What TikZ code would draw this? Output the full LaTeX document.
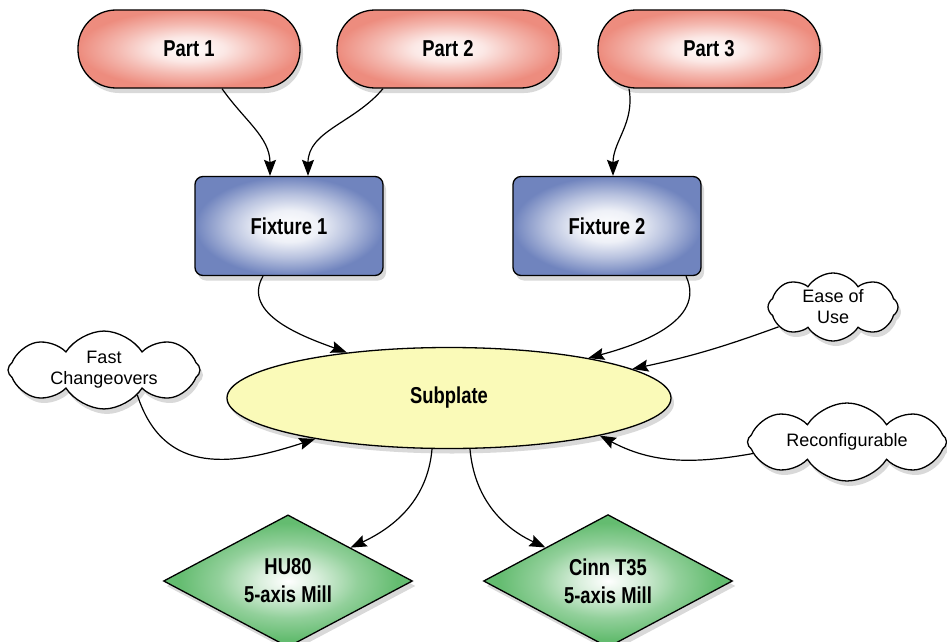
\documentclass[tikz,border=0pt]{standalone}
\usepackage{fontspec}
\setmainfont{Liberation Sans}
\newfontfamily\condb[FakeStretch=0.8]{Liberation Sans}
\usetikzlibrary{shapes.geometric,shapes.symbols,shadows,arrows.meta}
\definecolor{partcol}{RGB}{237,140,126}
\definecolor{fixcol}{RGB}{112,132,190}
\definecolor{millcol}{RGB}{100,188,112}
\definecolor{subcol}{RGB}{250,250,184}
\pgfdeclareradialshading{partsh}{\pgfpoint{0bp}{0bp}}{color(0bp)=(white); color(8bp)=(partcol!20!white); color(16bp)=(partcol!60!white); color(25bp)=(partcol); color(50bp)=(partcol)}
\pgfdeclareradialshading{fixsh}{\pgfpoint{0bp}{0bp}}{color(0bp)=(white); color(8bp)=(fixcol!12!white); color(16bp)=(fixcol!50!white); color(25bp)=(fixcol); color(50bp)=(fixcol)}
\pgfdeclareradialshading{millsh}{\pgfpoint{0bp}{0bp}}{color(0bp)=(white); color(6bp)=(millcol!25!white); color(14bp)=(millcol!70!white); color(22bp)=(millcol); color(50bp)=(millcol)}
\begin{document}
\begin{tikzpicture}[x=1pt,y=1pt,
  shad/.style={drop shadow={opacity=0.3,shadow xshift=3pt,shadow yshift=-5pt}},
  boldtxt/.style={font=\condb\bfseries\fontsize{23}{28}\selectfont},
  partbox/.style={shad,draw,line width=1.3pt,rounded corners=38pt,minimum width=222pt,minimum height=78pt,shading=partsh,boldtxt},
  fixbox/.style={shad,draw,line width=1.3pt,rounded corners=8pt,minimum width=188pt,minimum height=99pt,shading=fixsh,boldtxt},
  subbox/.style={shad,draw,line width=1.3pt,ellipse,minimum width=444pt,minimum height=101pt,fill=subcol,boldtxt},
  millbox/.style={shad,draw,line width=1.3pt,diamond,minimum width=249pt,minimum height=112pt,inner sep=0pt,shading=millsh,boldtxt,align=center},
  cloudbox/.style={shad,draw,fill=white,line width=1.3pt,cloud,cloud puffs=8,cloud puff arc=115,inner sep=-6pt,align=center,font=\fontsize{18}{21}\selectfont},
  conn/.style={line width=1.2pt,-{Stealth[length=16pt,width=12pt,inset=2.5pt]}}
]
\useasboundingbox (0,0) rectangle (947,-642);

\node[partbox] (p1) at (189,-49) {Part 1};
\node[partbox] (p2) at (448,-49) {Part 2};
\node[partbox] (p3) at (709,-49) {Part 3};

\node[fixbox] (f1) at (289,-226) {Fixture 1};
\node[fixbox] (f2) at (607,-226) {Fixture 2};

\node[cloudbox,aspect=2.5,minimum width=192pt,minimum height=76pt] (fast) at (104,-370) {Fast\\Changeovers};
\node[cloudbox,aspect=1.85,minimum width=130pt,minimum height=68pt] (ease) at (833,-307) {Ease of\\Use};
\node[cloudbox,aspect=2.5,minimum width=199pt,minimum height=78pt,inner sep=-14pt] (reconf) at (847,-442) {Reconfigurable};

\node[subbox] (sub) at (449,-398) {Subplate};

\node[millbox] (hu) at (288,-581) {HU80\\5-axis Mill};
\node[millbox] (cinn) at (608,-581) {Cinn T35\\5-axis Mill};

\draw[conn] ([xshift=33pt]p1.south) to[out=-55,in=90] ([xshift=-19pt]f1.north);
\draw[conn] ([xshift=-65pt]p2.south) to[out=-130,in=90] ([xshift=19pt]f1.north);
\draw[conn] ([xshift=-80pt]p3.south) to[out=-80,in=90] ([xshift=6pt]f2.north);
\draw[conn] ([xshift=-26pt]f1.south) to[out=-120,in=160] (sub.156);
\draw[conn] ([xshift=79pt]f2.south) to[out=-65,in=15] (sub.16);
\draw[conn] (ease.200) to[out=-160,in=12] (sub.9);
\draw[conn] (fast.-37) to[out=-72,in=198,looseness=1.2] (sub.197);
\draw[conn] (reconf.187) to[out=190,in=-28] (sub.-14);
\draw[conn] ([xshift=-17pt]sub.south) to[out=-95,in=25] (hu.north east);
\draw[conn] ([xshift=21pt]sub.south) to[out=-85,in=155] (cinn.north west);
\end{tikzpicture}
\end{document}
